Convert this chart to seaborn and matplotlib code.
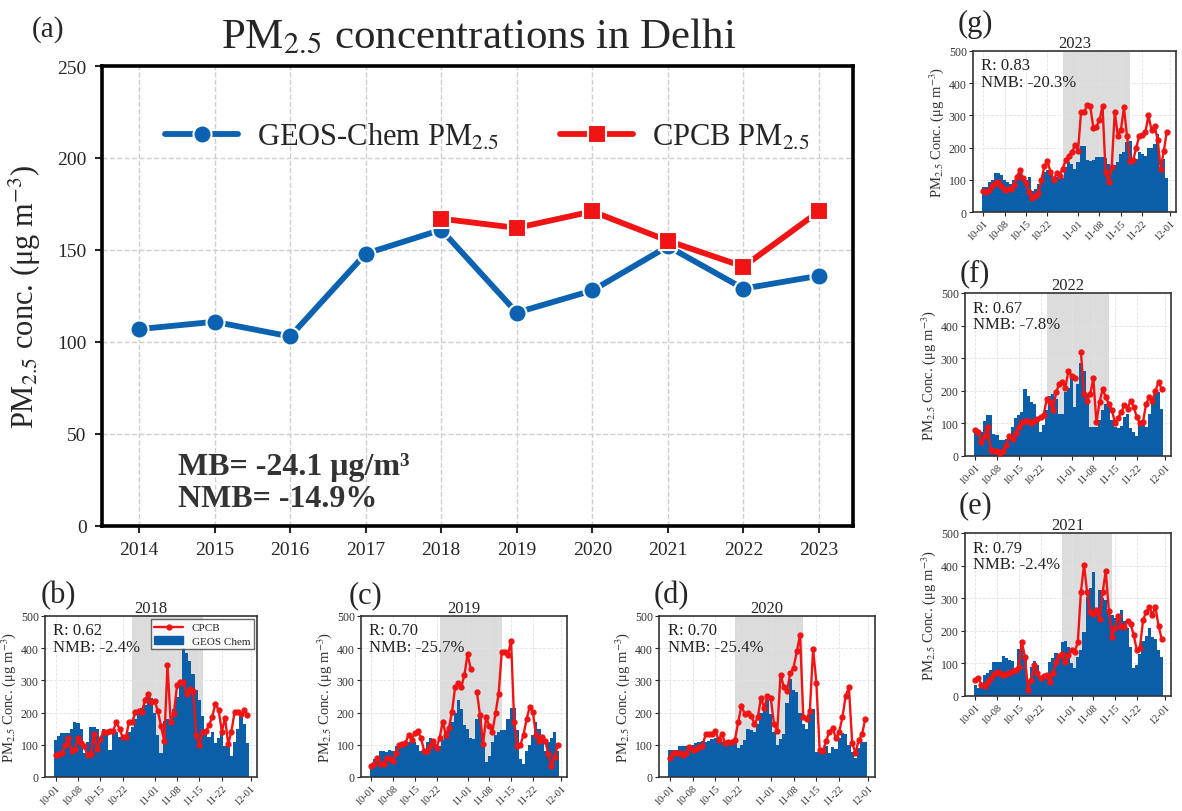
import numpy as np
import pandas as pd
import matplotlib
matplotlib.use("Agg")
import matplotlib.pyplot as plt
import seaborn as sns
from matplotlib.patches import Patch
from matplotlib.lines import Line2D

# ---------------- data ----------------
years = [2014, 2015, 2016, 2017, 2018, 2019, 2020, 2021, 2022, 2023]
geos_annual = [107, 111, 103, 148, 161, 116, 128, 152, 129, 136]
cpcb_annual = [np.nan, np.nan, np.nan, np.nan, 167, 162, 171, 155, 141, 171]
mb_text = "MB= -24.1 μg/m³"
nmb_text = "NMB= -14.9%"

date_ticks = ["10-01", "10-08", "10-15", "10-22", "11-01", "11-08", "11-15", "11-22", "12-01"]

geos_2018 = [116, 128, 138, 138, 136, 150, 170, 168, 150, 75,
             108, 155, 155, 150, 120, 150, 145, 85, 140, 140,
             125, 120, 118, 140, 155, 180, 205, 215, 225, 250,
             245, 200, 130, 75, 175, 180, 160, 210, 250, 290,
             400, 385, 360, 320, 270, 240, 190, 140, 125, 140,
             105, 120, 135, 95, 125, 65, 110, 150, 195, 165,
             105]
cpcb_2018 = [67, 70, 73, 100, 120, 82, 87, 120, 105, 95,
             68, 72, 133, 87, 119, 141, 141, 143, 143, 170,
             150, 123, 123, 172, 170, 203, 205, 203, 239, 259,
             232, 236, 205, 157, 111, 348, 172, 198, 285, 295,
             295, 259, 272, 267, 131, 100, 141, 143, 160, 187,
             228, 208, 141, 184, 102, 141, 203, 203, 195, 208,
             193]

geos_2019 = [40, 55, 62, 82, 82, 78, 84, 82, 95, 100,
             100, 105, 110, 125, 108, 100, 80, 80, 108, 122,
             110, 100, 95, 115, 140, 150, 170, 200, 238, 210,
             160, 150, 120, 118, 180, 185, 100, 48, 65, 110,
             130, 140, 145, 145, 180, 215, 215, 145, 55, 40,
             80, 100, 130, 170, 150, 130, 80, 110, 120, 140,
             80]
cpcb_2019 = [34, 39, 59, 41, 39, 59, 57, 49, 75, 100,
             102, 105, 131, 116, 136, 143, 121, 82, 80, 95,
             113, 90, 121, 172, 131, 152, 203, 280, 292, 280,
             318, 382, 336, np.nan, 264, 193, 102, 187, 157, 141,
             198, 259, 389, 389, 379, 423, 172, 95, 100, 131,
             180, 218, 203, 131, 111, 125, 113, 70, 34, 61,
             100]

geos_2020 = [85, 85, 85, 97, 97, 95, 92, 100, 105, 108,
             112, 110, 112, 118, 120, 115, 108, 112, 115, 110,
             108, 90, 100, 115, 148, 146, 140, 165, 200, 225,
             240, 195, 140, 100, 118, 135, 230, 305, 270, 265,
             200, 165, 150, 195, 210, 78, 80, 90, 95, 75,
             92, 88, 120, 138, 132, 100, 78, 58, 90, 110,
             108]
cpcb_2020 = [58, 73, 75, 75, 68, 75, 93, 85, 88, 93,
             95, 132, 132, 133, 142, 115, 134, 105, 110, 110,
             115, 170, 220, 197, 200, 190, 165, 185, 245, 215,
             252, 245, 165, 143, 318, 280, 268, 322, 340, 390,
             442, 185, 180, 205, 398, 293, 85, 80, 112, 140,
             152, 120, 140, 185, 252, 278, 105, 75, 115, 132,
             180]

geos_2021 = [35, 25, 25, 65, 72, 80, 105, 105, 105, 122,
             118, 110, 108, 80, 145, 172, 120, 50, 88, 108,
             95, 60, 55, 55, 105, 118, 132, 130, 165, 170,
             150, 100, 85, 120, 140, 195, 305, 330, 380, 260,
             325, 300, 295, 260, 250, 240, 245, 265, 230, 210,
             150, 85, 95, 130, 170, 185, 210, 180, 175, 140,
             120]
cpcb_2021 = [50, 55, 35, 32, 42, 55, 68, 75, 70, 65,
             68, 72, 78, 80, 90, 165, 120, 18, 50, 95,
             70, 55, 62, 65, 42, 70, 105, 122, 128, 105,
             125, 140, 135, 165, 318, 403, 318, 258, 252, 265,
             235, 318, 383, 262, 182, 210, 245, 215, 212, 230,
             220, 188, 140, 148, 232, 258, 272, 250, 272, 215,
             175]

geos_2022 = [80, 68, 75, 108, 125, 127, 67, 65, 48, 50,
             52, 52, 90, 118, 125, 135, 205, 185, 165, 160,
             110, 75, 95, 140, 185, 190, 175, 130, 130, 195,
             210, 250, 150, 220, 285, 260, 190, 90, 88, 90,
             110, 140, 160, 155, 110, 88, 85, 92, 120, 130,
             85, 75, 62, 100, 110, 90, 130, 175, 190, 195,
             145]
cpcb_2022 = [80, 75, 42, 62, 90, 17, 15, 15, 8, 15,
             35, 62, 52, 72, 88, 103, 108, 108, 100, 108,
             115, 120, 125, 175, 165, 140, 195, 220, 228, 210,
             262, 245, 238, np.nan, 320, 190, 170, 190, 238, 103,
             165, 205, 180, 160, 140, 100, 118, 135, 155, 145,
             170, 150, 120, 100, 105, 160, 180, 170, 200, 228,
             205]

geos_2023 = [78, 78, 92, 100, 120, 122, 115, 100, 92, 88,
             100, 112, 122, 110, 100, 110, 65, 72, 88, 98,
             125, 130, 118, 105, 110, 102, 105, 140, 155, 150,
             135, 155, 205, 205, 160, 158, 160, 170, 170, 170,
             168, 150, 130, 145, 155, 180, 185, 218, 220, 160,
             165, 185, 180, 175, 200, 200, 210, 242, 140, 165,
             105]
cpcb_2023 = [65, 62, 68, 80, 90, 93, 80, 68, 72, 70,
             85, 108, 130, 105, 90, 62, 42, 50, 58, 98,
             142, 158, 125, 100, 120, 113, 135, 162, 175, 185,
             208, 190, 312, 310, 333, 328, 262, 265, 285, 330,
             125, 92, 140, 310, 237, 255, 325, 235, 158, 160,
             200, 235, 240, 248, 300, 255, 268, 225, 135, 188,
             250]

shade_2018 = ("10-25", "11-16")
shade_2019 = ("10-23", "11-12")
shade_2020 = ("10-21", "11-11")
shade_2021 = ("10-29", "11-14")
shade_2022 = ("10-24", "11-13")
shade_2023 = ("10-27", "11-18")

r_vals = {2018: 0.62, 2019: 0.70, 2020: 0.70, 2021: 0.79, 2022: 0.67, 2023: 0.83}
nmb_vals = {2018: -2.4, 2019: -25.7, 2020: -25.4, 2021: -2.4, 2022: -7.8, 2023: -20.3}

# ---------------- style ----------------
BLUE = "#0a62b0"
BAR_BLUE = "#0b5ea8"
RED = "#f01414"
W, H = 1182, 812

sns.set_theme(style="ticks")
plt.rcParams["font.family"] = ["Liberation Serif", "DejaVu Serif"]
plt.rcParams["mathtext.fontset"] = "stix"
plt.rcParams["axes.unicode_minus"] = False


def rect(left, top, right, bottom):
    return [left / W, 1 - bottom / H, (right - left) / W, (bottom - top) / H]


def day_of(md):
    return (pd.Timestamp(f"2001-{md}") - pd.Timestamp("2001-10-01")).days


fig = plt.figure(figsize=(W / 100, H / 100), dpi=100)
fig.patch.set_facecolor("white")

# ---------------- panel (a) ----------------
ax = fig.add_axes(rect(102, 67, 853, 527))
df = pd.DataFrame({"Year": years, "GEOS": geos_annual, "CPCB": cpcb_annual})
sns.lineplot(data=df, x="Year", y="GEOS", ax=ax, color=BLUE, lw=4.2, marker="o",
             markersize=13, markeredgecolor="white", markeredgewidth=1.5,
             label="GEOS-Chem PM$_{2.5}$")
sns.lineplot(data=df.dropna(), x="Year", y="CPCB", ax=ax, color=RED, lw=4.2, marker="s",
             markersize=13, markeredgecolor="white", markeredgewidth=1.5,
             label="CPCB PM$_{2.5}$")
ax.set_xlim(years[0] - 0.49, years[-1] + 0.45)
ax.set_ylim(0, 250)
ax.set_xticks(years)
ax.set_xticklabels([str(y) for y in years])
ax.set_yticks([0, 50, 100, 150, 200, 250])
ax.grid(True, ls="--", color="#cfcfcf", lw=1.0)
ax.set_axisbelow(True)
for s in ax.spines.values():
    s.set_linewidth(2.6)
    s.set_color("black")
ax.tick_params(axis="both", labelsize=14, length=5, width=1.5, pad=6)
ax.set_xlabel("")
ax.set_ylabel("PM$_{2.5}$ conc. (μg m$^{-3}$)", fontsize=22, labelpad=10)
leg = ax.legend(ncol=2, loc="upper center", bbox_to_anchor=(0.513, 0.94), frameon=False,
                fontsize=22, handlelength=2.4, columnspacing=2.0, handletextpad=0.6)
ax.text(0.101, 0.130, mb_text, transform=ax.transAxes, fontsize=23, fontweight="bold",
        color="#333333", va="center", ha="left")
ax.text(0.101, 0.059, nmb_text, transform=ax.transAxes, fontsize=23, fontweight="bold",
        color="#333333", va="center", ha="left")
fig.text(479 / W, 1 - 38 / H, "PM$_{2.5}$ concentrations in Delhi", fontsize=31,
         ha="center", va="center")
fig.text(48 / W, 1 - 30 / H, "(a)", fontsize=21, ha="center", va="center")

# ---------------- small panels ----------------
tick_pos = [day_of(t) for t in date_ticks]


def small_panel(box, label, label_xy, year, geos, cpcb, shade, legend=False):
    a = fig.add_axes(rect(*box))
    days = np.arange(len(geos))
    a.axvspan(day_of(shade[0]), day_of(shade[1]), color="#dcdcdc", lw=0, zorder=0)
    a.bar(days, geos, width=1.0, color=BAR_BLUE, lw=0, zorder=2)
    a.plot(days, cpcb, color=RED, lw=1.7, marker="o", markersize=3.5, zorder=3)
    a.set_xlim(-3.3, 63.0)
    a.set_ylim(0, 500)
    a.set_yticks([0, 100, 200, 300, 400, 500])
    a.set_xticks(tick_pos)
    a.set_xticklabels(date_ticks, rotation=45, ha="right", rotation_mode="anchor")
    a.grid(True, ls="--", color="#e3e3e3", lw=0.6)
    a.set_axisbelow(True)
    for s in a.spines.values():
        s.set_linewidth(1.2)
        s.set_color("#333333")
    a.tick_params(axis="y", labelsize=8.5, length=3, width=0.8, pad=1.5, labelcolor="#333333")
    a.tick_params(axis="x", labelsize=7.5, length=3, width=0.8, pad=1.5, labelcolor="#333333")
    a.set_ylabel("PM$_{2.5}$ Conc. (μg m$^{-3}$)", fontsize=10.5, labelpad=2, color="#333333")
    a.set_title(str(year), fontsize=12, pad=3)
    a.text(0.04, 0.96, f"R: {r_vals[year]:.2f}\nNMB: {nmb_vals[year]:.1f}%",
           transform=a.transAxes, fontsize=12, va="top", ha="left",
           linespacing=1.05, color="#222222")
    if legend:
        handles = [Line2D([], [], color=RED, lw=1.7, marker="o", markersize=3.5, label="CPCB"),
                   Patch(color=BAR_BLUE, label="GEOS Chem")]
        a.legend(handles=handles, loc="upper right", fontsize=8, frameon=True,
                 fancybox=False, edgecolor="#444444", borderaxespad=0.3,
                 handlelength=2.6, borderpad=0.3, labelspacing=0.3)
    fig.text(label_xy[0] / W, 1 - label_xy[1] / H, label, fontsize=22,
             ha="center", va="center")
    return a


small_panel((45, 617, 257, 778), "(b)", (58, 596), 2018, geos_2018, cpcb_2018, shade_2018, legend=True)
small_panel((361, 617, 567, 778), "(c)", (365, 596), 2019, geos_2019, cpcb_2019, shade_2019)
small_panel((659, 617, 875, 778), "(d)", (671, 596), 2020, geos_2020, cpcb_2020, shade_2020)
small_panel((973, 52, 1176, 213), "(g)", (975, 24), 2023, geos_2023, cpcb_2023, shade_2023)
small_panel((965, 294, 1171, 457), "(f)", (975, 274), 2022, geos_2022, cpcb_2022, shade_2022)
small_panel((965, 534, 1171, 697), "(e)", (975, 506), 2021, geos_2021, cpcb_2021, shade_2021)

fig.savefig("out.png", dpi=100, facecolor="white")
